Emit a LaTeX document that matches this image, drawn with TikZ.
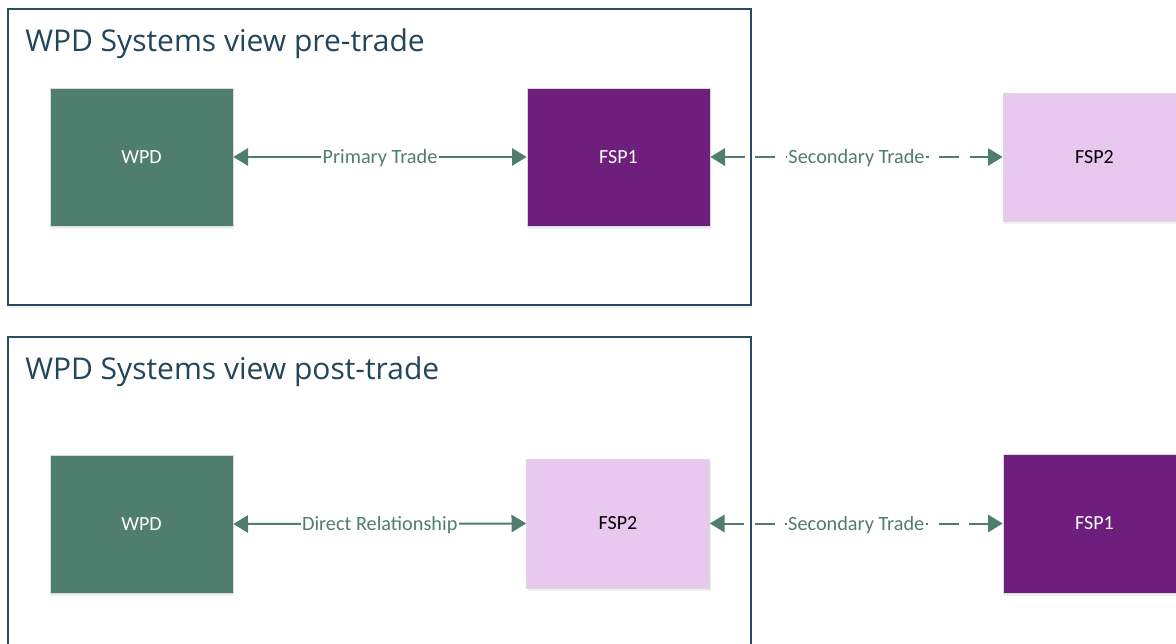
\documentclass[tikz,border=0pt]{standalone}
\usepackage{fontspec}
\setmainfont{Carlito}
\newfontfamily\titlefont{Open Sans}
\usetikzlibrary{arrows.meta,shadows}
\definecolor{framec}{HTML}{2C4D60}
\definecolor{titlec}{HTML}{23465A}
\definecolor{wpdgreen}{HTML}{507E6E}
\definecolor{fspdark}{HTML}{6E1F7E}
\definecolor{fsplight}{HTML}{E8C8EE}
\definecolor{linkc}{HTML}{507E6E}
\tikzset{
  frame/.style={draw=framec, line width=1.5pt, fill=white,
    drop shadow={opacity=0.12, shadow xshift=1pt, shadow yshift=-2pt}},
  sysbox/.style={rectangle, draw=black!15, line width=0.5pt, inner sep=0pt,
    minimum width=137.25pt, font=\fontsize{15}{18}\selectfont,
    drop shadow={opacity=0.12, shadow xshift=1pt, shadow yshift=-2pt}},
  wpdbox/.style={sysbox, fill=wpdgreen, text=white},
  darkbox/.style={sysbox, fill=fspdark, text=white},
  lightbox/.style={sysbox, fill=fsplight, text=black},
  title/.style={anchor=base west, inner sep=0pt, text=titlec,
    font=\titlefont\fontsize{22.5}{27}\selectfont},
  link/.style={draw=linkc, line width=1.5pt,
    {Triangle[length=11pt,width=13pt]}-{Triangle[length=11pt,width=13pt]}},
  dlink/.style={link, dash pattern=on 15pt off 8pt},
  linklabel/.style={fill=white, text=linkc, inner sep=1pt, yshift=-1pt,
    font=\fontsize{15.2}{18}\selectfont}
}
\begin{document}
\begin{tikzpicture}[x=0.75pt,y=-0.75pt]
\useasboundingbox (0,0) rectangle (1176,643);
\clip (0,0) rectangle (1176,643);
% frames
\path[frame] (8,9) rectangle (751,305);
\path[frame] (8,337) rectangle (751,680);
\node[title] (t1) at (25,51) {WPD Systems view pre-trade};
\node[title] (t2) at (25,379) {WPD Systems view post-trade};
% top row
\node[wpdbox, minimum height=103.5pt] (wpd1) at (141.5,157) {WPD};
\node[darkbox, minimum height=103.5pt] (fsp1a) at (618.5,157) {FSP1};
\node[lightbox, minimum height=96pt] (fsp2a) at (1094.5,157) {FSP2};
% bottom row
\node[wpdbox, minimum height=103.5pt] (wpd2) at (141.5,524) {WPD};
\node[lightbox, minimum height=96.75pt] (fsp2b) at (618,523.5) {FSP2};
\node[darkbox, minimum height=104.25pt] (fsp1b) at (1094.5,523.5) {FSP1};
% connectors
\draw[link] (wpd1.east) -- node[linklabel] {Primary Trade} (fsp1a.west);
\draw[dlink] (fsp1a.east) -- node[linklabel] {Secondary Trade} (fsp2a.west);
\draw[link] (wpd2.east) -- node[linklabel] {Direct Relationship} (fsp2b.west);
\draw[dlink] (fsp2b.east) -- node[linklabel] {Secondary Trade} (fsp1b.west);
% frame right edges over the dashed links
\draw[framec, line width=1.5pt] (751,9) -- (751,305);
\draw[framec, line width=1.5pt] (751,337) -- (751,680);
\end{tikzpicture}
\end{document}
